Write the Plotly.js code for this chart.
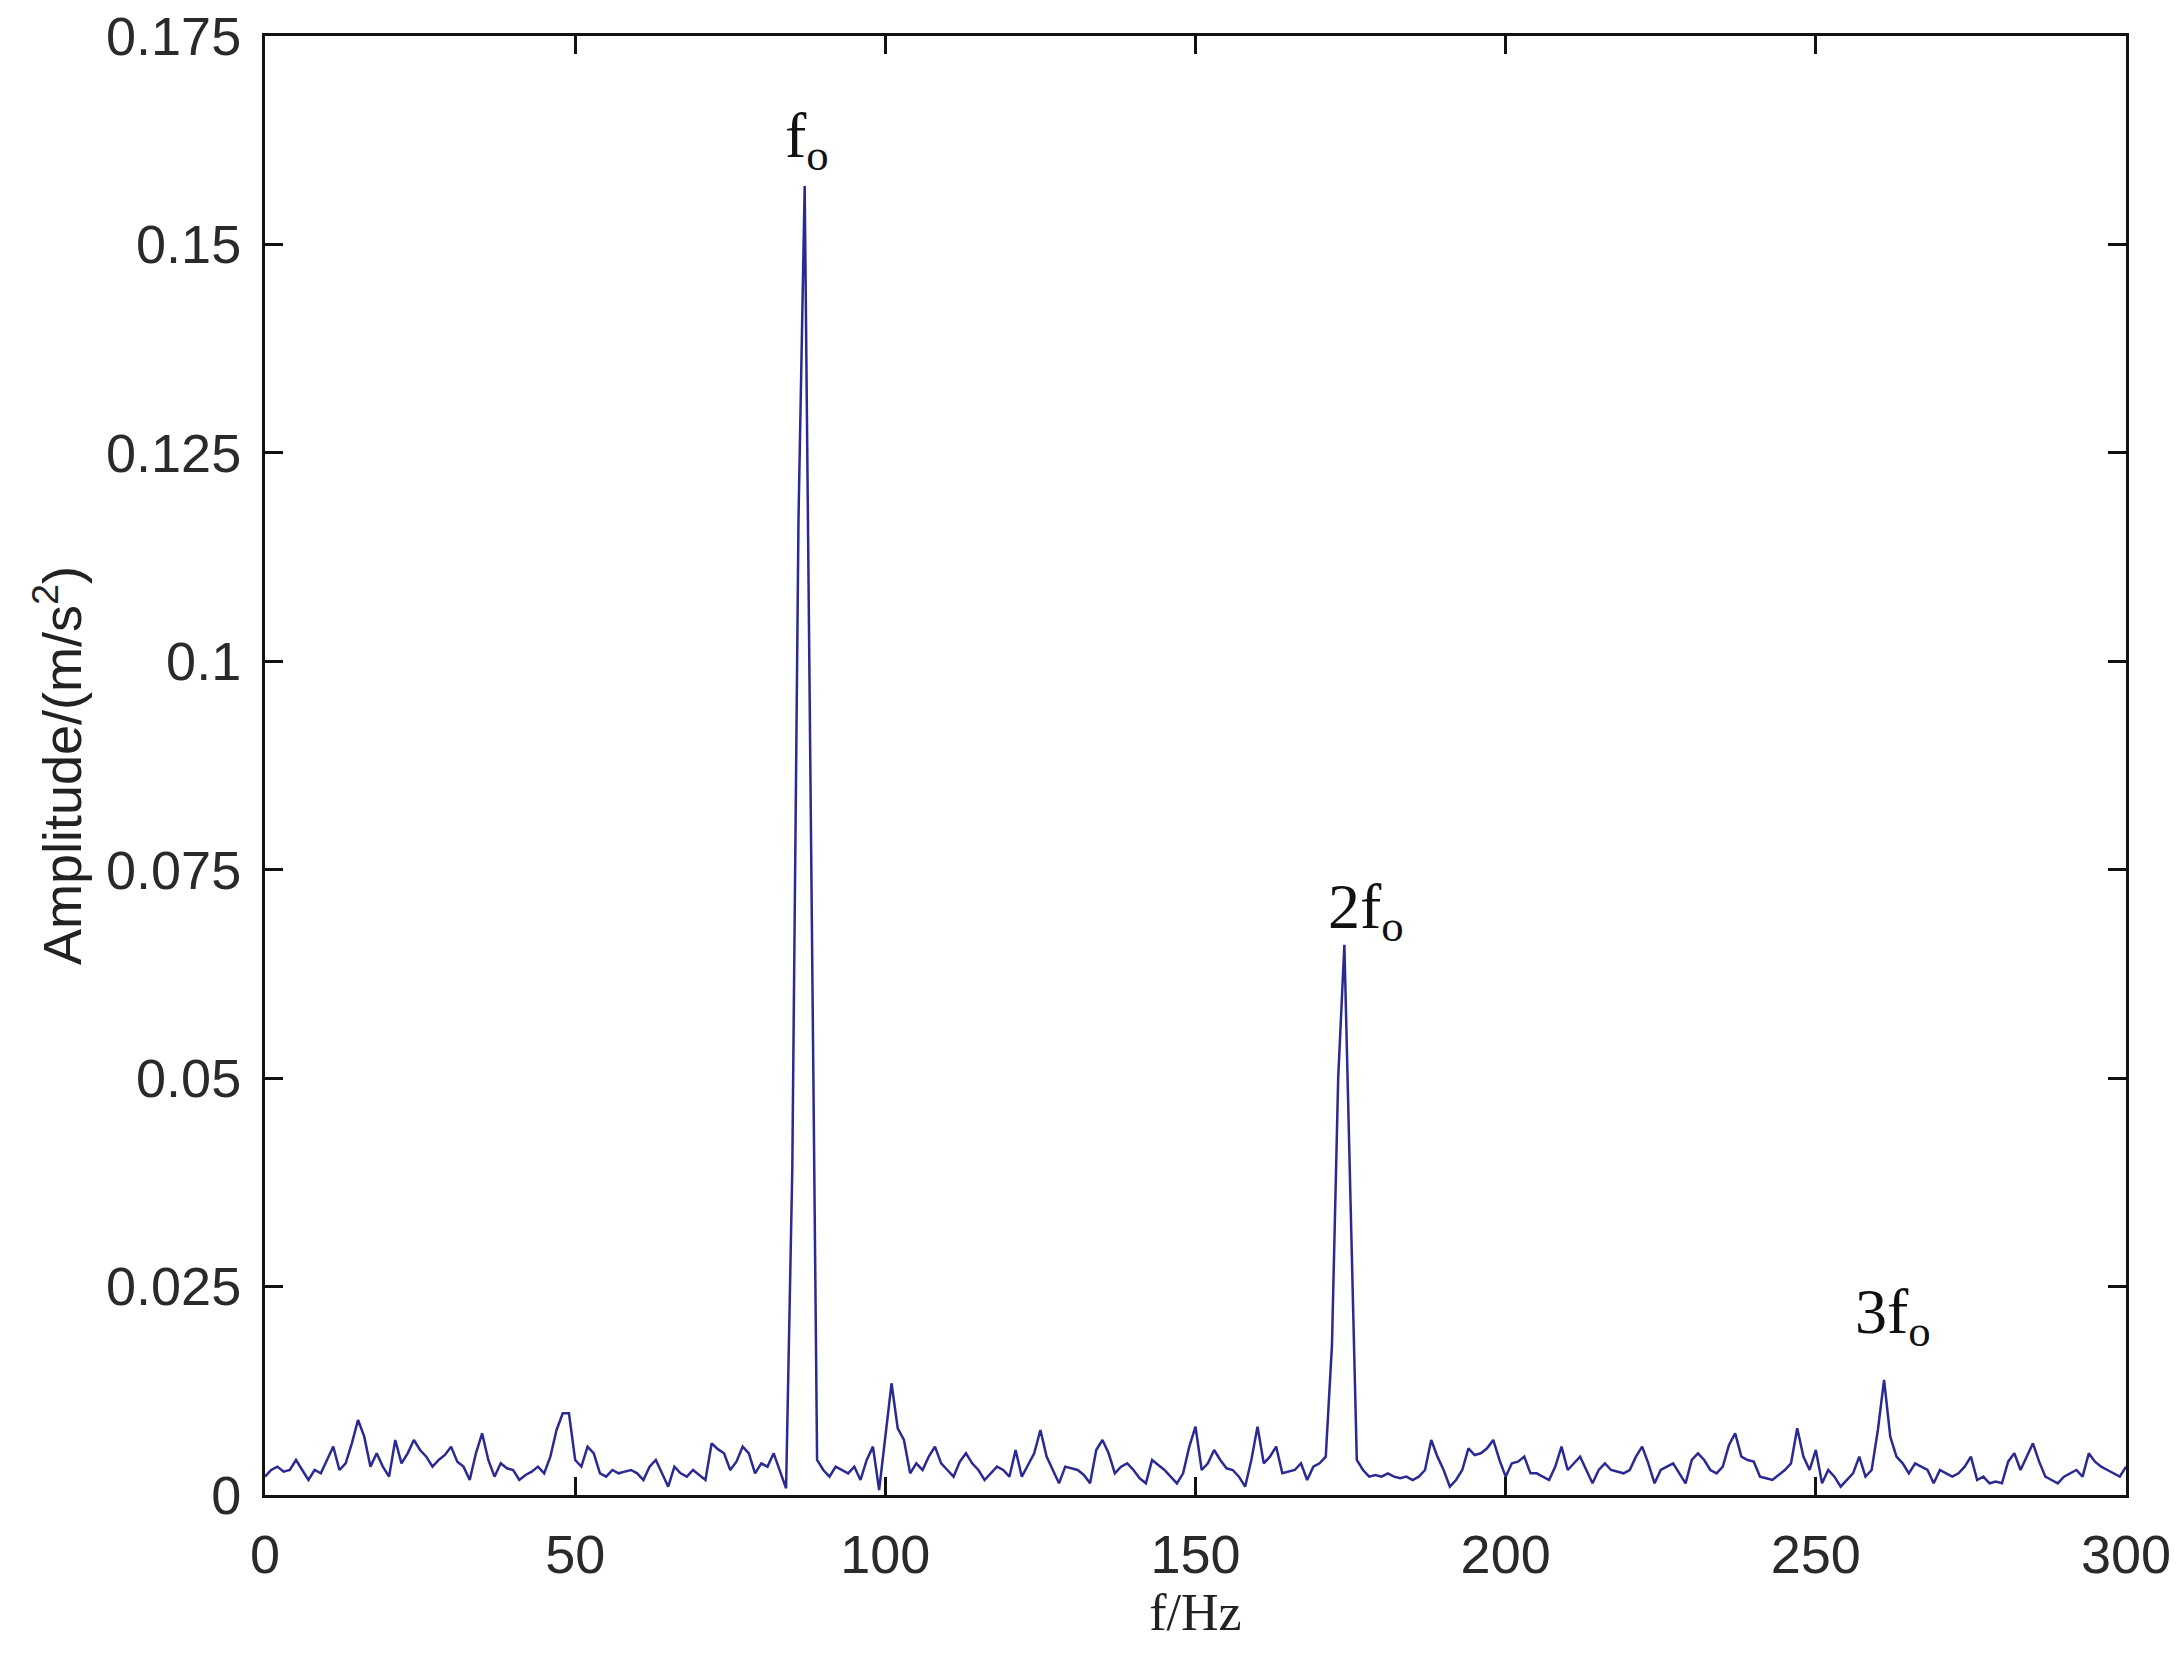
<!DOCTYPE html>
<html>
<head>
<meta charset="utf-8">
<script src="https://cdn.plot.ly/plotly-3.0.1.min.js"></script>
<style>
	body { margin: 0; background: #fff; }
	#myDiv { width: 2182px; height: 1655px; }
</style>
</head>
<body>
<div id="myDiv"></div>
<script>
// Frequenzachse 0..300 Hz, 1 Hz Schritt
let freqStart = 0
let freqStep = 1

// Amplitude (m/s^2)
let amplitude = [
	0.0022, 0.0030, 0.0034, 0.0028, 0.0030, 0.0042, 0.0030, 0.0018, 0.0030, 0.0026,
	0.0042, 0.0058, 0.0030, 0.0038, 0.0062, 0.0090, 0.0070, 0.0034, 0.0050, 0.0034,
	0.0022, 0.0066, 0.0038, 0.0050, 0.0066, 0.0054, 0.0046, 0.0034, 0.0042, 0.0048,
	0.0058, 0.0040, 0.0034, 0.0018, 0.0050, 0.0074, 0.0042, 0.0022, 0.0038, 0.0032,
	0.0030, 0.0018, 0.0024, 0.0028, 0.0034, 0.0026, 0.0046, 0.0078, 0.0098, 0.0098,
	0.0042, 0.0034, 0.0058, 0.0050, 0.0026, 0.0022, 0.0030, 0.0026, 0.0028, 0.0030,
	0.0026, 0.0018, 0.0034, 0.0042, 0.0026, 0.0010, 0.0034, 0.0026, 0.0022, 0.0030,
	0.0024, 0.0018, 0.0062, 0.0055, 0.0050, 0.0030, 0.0040, 0.0058, 0.0050, 0.0026,
	0.0038, 0.0034, 0.0050, 0.0030, 0.0008, 0.0390, 0.1170, 0.1570, 0.0800, 0.0042,
	0.0030, 0.0022, 0.0034, 0.0030, 0.0026, 0.0034, 0.0018, 0.0042, 0.0058, 0.0006,
	0.0070, 0.0134, 0.0080, 0.0066, 0.0026, 0.0038, 0.0030, 0.0046, 0.0058, 0.0038,
	0.0030, 0.0022, 0.0040, 0.0050, 0.0038, 0.0030, 0.0018, 0.0026, 0.0034, 0.0030,
	0.0022, 0.0054, 0.0022, 0.0036, 0.0050, 0.0078, 0.0046, 0.0030, 0.0014, 0.0034,
	0.0032, 0.0030, 0.0024, 0.0014, 0.0054, 0.0066, 0.0050, 0.0026, 0.0034, 0.0038,
	0.0030, 0.0020, 0.0014, 0.0042, 0.0036, 0.0030, 0.0022, 0.0014, 0.0026, 0.0058,
	0.0082, 0.0030, 0.0038, 0.0054, 0.0042, 0.0032, 0.0030, 0.0022, 0.0010, 0.0042,
	0.0082, 0.0038, 0.0046, 0.0058, 0.0026, 0.0028, 0.0030, 0.0038, 0.0018, 0.0034,
	0.0038, 0.0046, 0.0180, 0.0500, 0.0660, 0.0350, 0.0042, 0.0030, 0.0022, 0.0024,
	0.0022, 0.0026, 0.0022, 0.0020, 0.0022, 0.0018, 0.0022, 0.0030, 0.0066, 0.0046,
	0.0030, 0.0010, 0.0018, 0.0030, 0.0056, 0.0048, 0.0050, 0.0056, 0.0066, 0.0042,
	0.0022, 0.0038, 0.0040, 0.0046, 0.0026, 0.0026, 0.0022, 0.0018, 0.0034, 0.0058,
	0.0030, 0.0038, 0.0046, 0.0030, 0.0014, 0.0030, 0.0038, 0.0030, 0.0028, 0.0026,
	0.0030, 0.0046, 0.0058, 0.0038, 0.0014, 0.0030, 0.0034, 0.0038, 0.0026, 0.0014,
	0.0042, 0.0050, 0.0042, 0.0030, 0.0026, 0.0034, 0.0060, 0.0074, 0.0046, 0.0042,
	0.0040, 0.0022, 0.0020, 0.0018, 0.0024, 0.0030, 0.0038, 0.0080, 0.0046, 0.0030,
	0.0054, 0.0014, 0.0030, 0.0022, 0.0010, 0.0018, 0.0026, 0.0046, 0.0022, 0.0030,
	0.0078, 0.0138, 0.0070, 0.0046, 0.0038, 0.0026, 0.0038, 0.0034, 0.0030, 0.0014,
	0.0030, 0.0026, 0.0022, 0.0026, 0.0034, 0.0046, 0.0018, 0.0022, 0.0014, 0.0016,
	0.0014, 0.0040, 0.0050, 0.0030, 0.0046, 0.0062, 0.0040, 0.0022, 0.0018, 0.0014,
	0.0022, 0.0026, 0.0030, 0.0022, 0.0050, 0.0040, 0.0034, 0.0030, 0.0026, 0.0022,
	0.0034
]

// Beschriftung der Harmonischen
let harmonicText = ['f<sub>o</sub>', '2f<sub>o</sub>', '3f<sub>o</sub>']
let harmonicX = [87.4, 177.5, 262.5]
let harmonicY = [0.1625, 0.0700, 0.0215]

let xTickVals = [0, 50, 100, 150, 200, 250, 300]
let yTickVals = [0, 0.025, 0.05, 0.075, 0.1, 0.125, 0.15, 0.175]
let yTickText = ['0', '0.025', '0.05', '0.075', '0.1', '0.125', '0.15', '0.175']

let freq = amplitude.map((v, i) => freqStart + i * freqStep)

var data = [
	{
		x: freq,
		y: amplitude,
		type: 'scatter',
		mode: 'lines',
		line: {color: '#2a2a92', width: 2.5},
		hoverinfo: 'skip'
	}
]

let annots = []
for (let i = 0; i < harmonicText.length; i++){
	annots.push({
		x: harmonicX[i],
		y: harmonicY[i],
		xref: 'x',
		yref: 'y',
		text: harmonicText[i],
		showarrow: false,
		xanchor: 'center',
		yanchor: 'middle',
		font: {family: 'Liberation Serif, Times New Roman, serif', size: 64, color: '#111'}
	})
}

let axisCommon = {
	showline: true,
	linecolor: '#111',
	linewidth: 3,
	mirror: 'ticks',
	ticks: 'inside',
	ticklen: 18,
	tickwidth: 3,
	tickcolor: '#111',
	showgrid: false,
	zeroline: false,
	ticklabelstandoff: 10,
	tickfont: {family: 'Liberation Sans, Arial, sans-serif', size: 54, color: '#2a2a2a'}
}

var layout = {
	width: 2182,
	height: 1655,
	margin: {l: 265, r: 56, t: 36, b: 160},
	paper_bgcolor: '#fff',
	plot_bgcolor: '#fff',
	showlegend: false,
	xaxis: Object.assign({}, axisCommon, {
		range: [0, 300],
		tickmode: 'array',
		tickvals: xTickVals,
		title: {text: 'f/Hz', standoff: 8, font: {family: 'Liberation Serif, Times New Roman, serif', size: 52, color: '#222'}}
	}),
	yaxis: Object.assign({}, axisCommon, {
		range: [0, 0.175],
		tickmode: 'array',
		tickvals: yTickVals,
		ticktext: yTickText,
		title: {text: 'Amplitude/(m/s<sup>2</sup>)', standoff: 8, font: {family: 'Liberation Sans, Arial, sans-serif', size: 54, color: '#222'}}
	}),
	annotations: annots
}

Plotly.newPlot('myDiv', data, layout, {staticPlot: true})
</script>
</body>
</html>
